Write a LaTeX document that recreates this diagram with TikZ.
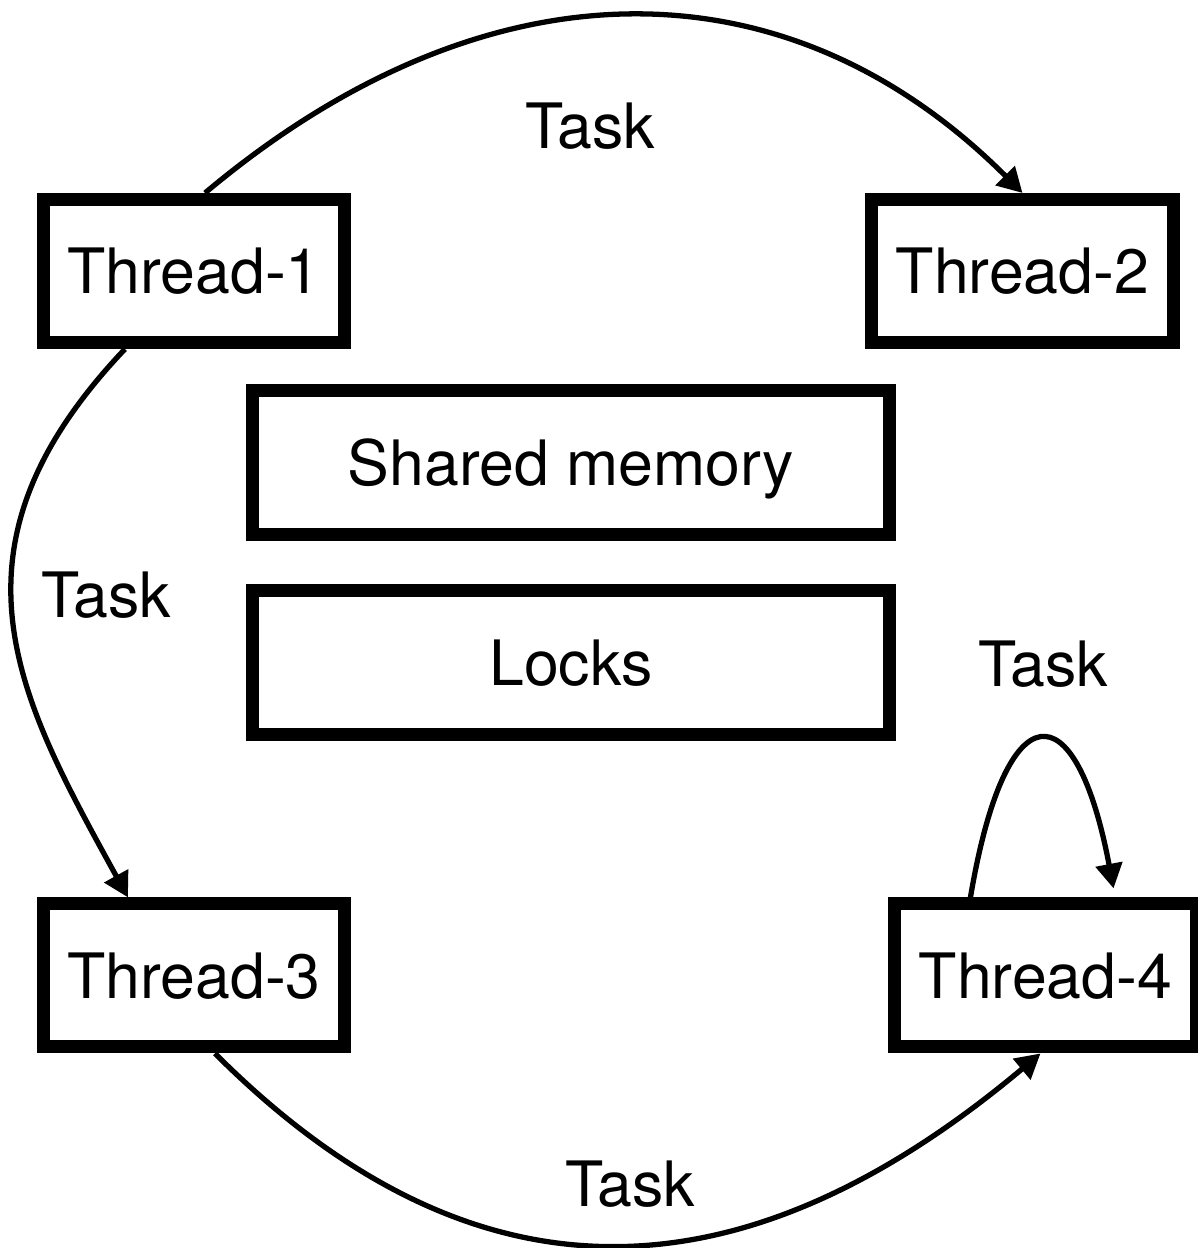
\documentclass[tikz,border=0pt]{standalone}
\usepackage{fontspec}
\setmainfont{TeX Gyre Heros}
\usetikzlibrary{positioning,arrows.meta}

\begin{document}
\begin{tikzpicture}[x=0.01cm,y=-0.01cm,
			>={Triangle[length=7pt,width=7.5pt]},
			box/.style={
				draw,
				line width=3.7pt,
				minimum width=3.01cm,
				minimum height=1.43cm,
				inner sep=0pt,
				text depth=0pt,
				font=\fontsize{17.8}{21}\selectfont
			},
			wide/.style={box,minimum width=6.37cm,minimum height=1.44cm},
			task/.style={->,line width=1.5pt},
			lbl/.style={anchor=base,inner sep=0pt,font=\fontsize{17.8}{21}\selectfont}]
			
			\useasboundingbox (0,0) rectangle (1198,1248);
			
			\node[box](t1) at (194,271){Thread-1};
			
			\node[box](t2)[right=5.14cm of t1]{Thread-2};
			
			\node[box](t3)[below=5.48cm of t1]{Thread-3};
			
			\node[box](t4)[right=5.37cm of t3]{Thread-4};
			
			\node[wide](mem) at (571,462.5){Shared memory};
			
			\node[wide](locks)[below=0.43cm of mem]{Locks};
			
			\node[lbl](task12) at (590,148){Task};
			
			\node[lbl](task13) at (106,617){Task};
			
			\node[lbl](task44) at (1043,686){Task};
			
			\node[lbl](task34) at (630,1206){Task};
			
			\draw[task]([xshift=0.11cm]t1.north) .. controls +(281,-236) and +(-236,-236) .. (t2.north);
			
			\draw[task]([xshift=-0.69cm]t1.south) .. controls +(-190,200) and +(-110,-200) .. ([xshift=-0.66cm]t3.north);
			
			\draw[task]([xshift=0.21cm]t3.south) .. controls +(255,255) and +(-304,255) .. ([xshift=-0.05cm]t4.south);
			
			\draw[task]([xshift=-0.75cm]t4.north) .. controls +(35,-208) and +(-38,-201) .. ([xshift=0.68cm,yshift=0.09cm]t4.north);
			
		\end{tikzpicture}
\end{document}
